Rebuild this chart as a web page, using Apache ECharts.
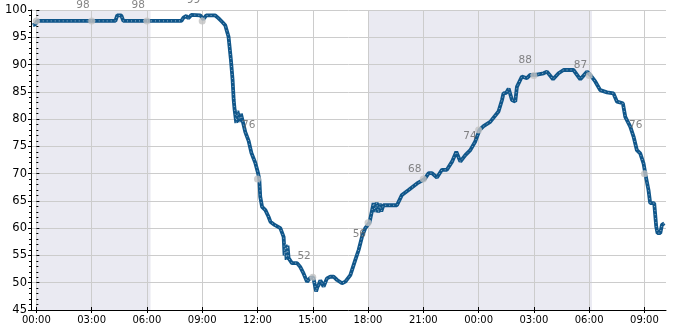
<!DOCTYPE html>
<html>
<head>
<meta charset="utf-8">
<script src="https://cdn.jsdelivr.net/npm/echarts@6/dist/echarts.min.js"></script>
<style>html,body{margin:0;padding:0;background:#fff}#c{width:685px;height:330px}</style>
</head>
<body>
<div id="c"></div>
<script>
// hours since first midnight
const times = [-0.19,-0.05,0.05,4.29,4.39,4.61,4.72,7.87,7.98,8.14,8.25,8.41,8.90,9.06,9.22,9.71,9.88,10.09,10.25,10.43,10.56,10.65,10.71,10.76,10.85,10.91,10.98,11.04,11.10,11.16,11.25,11.34,11.52,11.67,11.88,12.03,12.10,12.15,12.25,12.43,12.60,12.70,12.93,13.24,13.42,13.47,13.53,13.58,13.63,13.69,13.87,14.15,14.32,14.50,14.69,14.87,15.03,15.11,15.18,15.25,15.32,15.41,15.50,15.59,15.77,15.95,16.13,16.32,16.59,16.77,17.04,17.31,17.49,17.67,17.85,18.08,18.30,18.39,18.47,18.56,18.64,18.72,18.83,19.03,19.57,19.84,20.20,20.66,21.07,21.29,21.47,21.74,22.01,22.28,22.56,22.79,23.01,23.28,23.55,23.82,24.05,24.27,24.63,25.08,25.27,25.35,25.50,25.63,25.81,25.99,26.08,26.35,26.62,26.80,27.09,27.53,27.71,28.04,28.34,28.61,29.15,29.52,29.88,30.06,30.33,30.60,30.97,31.32,31.51,31.83,31.96,32.23,32.41,32.59,32.77,32.95,33.06,33.22,33.31,33.53,33.64,33.71,33.86,33.95,34.08];
const values = [97.2,97.4,98,98,99,99,98,98,98.6,98.9,98.5,99.1,99,98.3,99,99,98.5,97.8,97.2,95.1,90.8,87.2,83.5,81.7,79.3,81.5,81.7,79.5,81,80.7,78.9,77.6,76,73.8,72,70.1,69,65.8,63.9,63.3,62.1,61.2,60.6,60,58.4,55,57,54.2,56.8,54.5,53.6,53.6,52.9,51.7,50.2,50.9,51,51,48.4,49.2,49.6,50.4,49.9,49.3,50.8,51.1,51.1,50.5,49.9,50.2,51.4,54.2,56,58.4,60,61,64.6,63,64.7,62.9,64.5,63.1,64.2,64.2,64.2,66.1,67,68.2,69,70.1,70.1,69.3,70.7,70.7,72.2,74,72.2,73.4,74.3,75.9,78,78.7,79.5,81.4,83.5,84.7,84.8,85.6,83.5,83.2,85.9,87.8,87.5,88.1,88.1,88.4,88.7,87.3,88.4,89,89,87.3,88.7,88.1,86.9,85.3,84.9,84.7,83.2,82.9,80.4,78.6,76.8,74.3,73.7,71.9,69.75,67,64.6,64.6,60.3,59.1,59.1,60.6,60.9];
const markerHours = [0,3,6,9,12,15,18,21,24,27,30,33];
const markerValues = [98,98,98,98,69,51,61,69,78,88,88,70];
const labelHours = [3,6,9,12,15,18,21,24,27,30,33];
const labelValues = [98,98,99,76,52,56,68,74,88,87,76];
const tickHours = [0,3,6,9,12,15,18,21,24,27,30,33];
const nightRanges = [[0,6.2],[18,30.15]];

const FONT = 'DejaVu Sans';
const fmt = h => String(((h % 24) + 24) % 24).padStart(2,'0') + ':00';
const xMin = -0.29, xMax = 34.17;

const chart = echarts.init(document.getElementById('c'), null, {renderer:'canvas'});
chart.setOption({
  animation: false,
  backgroundColor: '#fff',
  grid: {left: 31, top: 10, right: 19, bottom: 20, containLabel: false},
  xAxis: [{
    type: 'value', min: xMin, max: xMax, position: 'bottom',
    axisLine: {show: true, onZero: false, lineStyle: {color: '#000', width: 1}},
    axisTick: {show: true, customValues: tickHours, length: 3, lineStyle: {color: '#000'}},
    axisLabel: {customValues: tickHours, formatter: fmt, fontFamily: FONT, fontSize: 10, color: '#000', margin: 5},
    splitLine: {show: true, lineStyle: {color: '#cccccc', width: 1}}
  }, {
    type: 'value', min: xMin, max: xMax, position: 'bottom',
    axisLine: {show: false},
    axisTick: {show: true, inside: true, customValues: tickHours, length: 3, lineStyle: {color: '#000'}},
    axisLabel: {show: false},
    splitLine: {show: false}
  }],
  yAxis: [{
    type: 'value', min: 45, max: 100, interval: 5, position: 'left',
    axisLine: {show: true, onZero: false, lineStyle: {color: '#000', width: 1}},
    axisTick: {show: true, length: 3, lineStyle: {color: '#000'}},
    minorTick: {show: true, splitNumber: 5, length: 2, lineStyle: {color: '#000'}},
    axisLabel: {fontFamily: FONT, fontSize: 11.5, color: '#000', margin: 4},
    splitLine: {show: true, lineStyle: {color: '#cccccc', width: 1}}
  }, {
    type: 'value', min: 45, max: 100, interval: 5, position: 'left',
    axisLine: {show: false},
    axisTick: {show: true, inside: true, length: 3, lineStyle: {color: '#000'}},
    minorTick: {show: true, splitNumber: 5, length: 2, lineStyle: {color: '#000'}},
    axisLabel: {show: false},
    splitLine: {show: false}
  }],
  series: [{
    type: 'line', name: 'night', data: [], silent: true,
    markArea: {
      silent: true, z: -1,
      itemStyle: {color: '#eaeaf2'},
      data: nightRanges.map(r => [{xAxis: r[0]}, {xAxis: r[1]}])
    }
  }, {
    type: 'line', name: 'value',
    data: times.map((t,i) => [t, values[i]]),
    showSymbol: false, symbol: 'none',
    lineStyle: {color: '#10568a', width: 3.8},
    z: 3
  }, {
    type: 'line', name: 'dots',
    data: times.map((t,i) => [t, values[i]]),
    showSymbol: false, symbol: 'none',
    lineStyle: {color: 'rgba(255,255,255,0.55)', width: 1, type: [1,3]},
    z: 4
  }, {
    type: 'scatter', name: 'markers',
    data: markerHours.map((h,i) => [h, markerValues[i]]),
    symbolSize: 7, itemStyle: {color: '#c2c2c2'}, z: 5
  }, {
    type: 'scatter', name: 'labels',
    data: labelHours.map((h,i) => [h, labelValues[i]]),
    symbolSize: 0, z: 6,
    label: {show: true, position: 'left', distance: 2, offset: [0, -15.5],
      formatter: p => String(p.value[1]), fontFamily: FONT, fontSize: 10.5, color: '#666'}
  }]
});
</script>
</body>
</html>
